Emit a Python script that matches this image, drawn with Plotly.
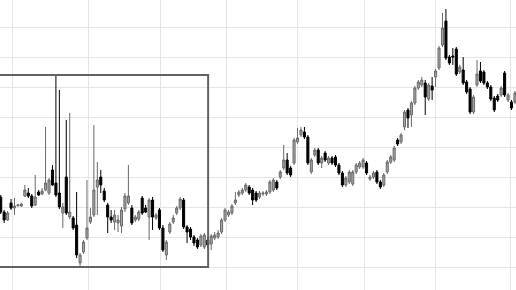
import plotly.graph_objects as go

# Daily OHLC values (arbitrary price units)
open_ = [100, 85, 77, 94, 89, 91, 91, 101, 104, 101, 92, 105, 103, 107, 104, 127, 114, 104, 84, 120,
         80, 79, 72, 34, 45, 59, 75, 82, 110, 120, 106, 92, 80, 75, 74, 71, 88, 94, 89, 77,
         78, 99, 89, 80, 97, 79, 87, 69, 42, 65, 75, 84, 89, 97, 70, 68, 60, 57, 52, 50,
         57, 53, 59, 60, 65, 77, 82, 84, 94, 102, 104, 107, 110, 107, 104, 100, 103, 103, 105, 107,
         115, 120, 129, 137, 129, 134, 155, 162, 165, 160, 125, 142, 147, 134, 144, 134, 139, 140, 132, 124,
         112, 115, 113, 125, 130, 130, 134, 118, 120, 125, 115, 112, 125, 135, 137, 157, 155, 170, 187, 182,
         194, 209, 212, 214, 198, 211, 220, 229, 252, 276, 240, 241, 248, 225, 227, 215, 208, 185, 212, 226,
         225, 214, 210, 199, 201, 202, 224, 197, 195, 195]
high = [102, 87, 86, 98, 99, 93, 94, 112, 109, 103, 122, 107, 109, 170, 119, 132, 222, 207, 94, 177,
        184, 81, 105, 44, 57, 117, 89, 172, 135, 127, 109, 94, 87, 87, 82, 90, 104, 132, 92, 82,
        87, 101, 92, 99, 100, 84, 89, 72, 57, 75, 82, 91, 100, 99, 72, 70, 62, 59, 63, 64,
        60, 63, 65, 67, 79, 89, 87, 93, 105, 107, 109, 114, 112, 109, 106, 106, 106, 107, 117, 119,
        117, 127, 152, 144, 131, 159, 169, 170, 170, 162, 139, 149, 149, 141, 146, 141, 141, 142, 134, 126,
        121, 127, 127, 134, 136, 139, 136, 122, 126, 127, 117, 124, 137, 142, 151, 159, 164, 187, 189, 196,
        211, 217, 220, 217, 214, 220, 228, 251, 284, 288, 242, 249, 250, 232, 240, 217, 210, 202, 237, 235,
        227, 216, 212, 201, 203, 211, 226, 204, 197, 206]
low = [83, 74, 76, 87, 82, 91, 90, 100, 99, 89, 91, 101, 102, 106, 102, 111, 100, 88, 69, 82,
       78, 67, 39, 30, 43, 57, 73, 80, 82, 104, 95, 64, 74, 67, 65, 64, 85, 92, 72, 75,
       76, 82, 84, 57, 67, 77, 67, 45, 37, 63, 73, 82, 87, 68, 54, 57, 51, 48, 50, 48,
       49, 47, 57, 58, 63, 75, 80, 82, 92, 100, 102, 105, 102, 92, 95, 98, 101, 101, 103, 105,
       107, 118, 127, 122, 120, 132, 153, 160, 158, 132, 123, 140, 132, 129, 135, 132, 132, 130, 122, 110,
       110, 113, 111, 123, 128, 128, 122, 116, 118, 113, 108, 110, 123, 133, 135, 151, 153, 167, 169, 170,
       192, 207, 210, 182, 196, 197, 210, 227, 250, 237, 232, 232, 221, 223, 212, 203, 183, 183, 210, 214,
       212, 208, 196, 185, 195, 200, 200, 195, 187, 193]
close = [85, 77, 84, 89, 91, 92, 93, 107, 101, 91, 100, 102, 106, 114, 117, 112, 102, 90, 90, 84,
         85, 69, 42, 42, 55, 69, 80, 107, 117, 112, 97, 80, 77, 82, 77, 87, 101, 101, 74, 80,
         85, 84, 85, 97, 80, 82, 69, 47, 55, 73, 79, 89, 98, 70, 65, 60, 54, 50, 61, 62,
         52, 61, 62, 64, 77, 87, 85, 91, 97, 105, 107, 112, 104, 97, 97, 104, 104, 105, 115, 117,
         109, 125, 137, 124, 122, 157, 159, 167, 160, 134, 137, 147, 134, 139, 137, 139, 134, 132, 124, 112,
         119, 125, 125, 132, 134, 137, 124, 120, 124, 115, 110, 122, 135, 140, 149, 153, 162, 185, 179, 194,
         209, 215, 217, 200, 212, 207, 226, 249, 269, 239, 234, 240, 223, 230, 214, 205, 185, 200, 223, 216,
         214, 210, 198, 187, 197, 209, 202, 202, 189, 204]

days = list(range(len(close)))

# Grid / highlight box positions in the same units
x_ticks = [3.3, 25.3, 46.2, 65.3, 86.1, 105.3, 126.1, 147.6]
y_ticks = [30, 60, 90, 120, 150, 180, 210, 240, 270]
box_x = [-3, 60.1]
box_y = [30, 222]

fig = go.Figure(go.Candlestick(
    x=days, open=open_, high=high, low=low, close=close,
    increasing=dict(line=dict(color="#6a6a6a", width=1), fillcolor="#a6a6a6"),
    decreasing=dict(line=dict(color="#000000", width=1), fillcolor="#000000"),
    whiskerwidth=0,
    showlegend=False,
))

fig.add_shape(type="rect", x0=box_x[0], x1=box_x[1], y0=box_y[0], y1=box_y[1],
              line=dict(color="#626262", width=2), fillcolor="rgba(0,0,0,0)")

fig.update_layout(
    width=516, height=290,
    margin=dict(l=0, r=0, t=0, b=0),
    paper_bgcolor="white", plot_bgcolor="white",
    boxgap=0.15,
    xaxis=dict(range=[-0.2, 149.3], tickvals=x_ticks, showticklabels=False,
               showgrid=True, gridcolor="#e5e5e5", gridwidth=1, zeroline=False,
               rangeslider=dict(visible=False), ticks=""),
    yaxis=dict(range=[7, 297], tickvals=y_ticks, showticklabels=False,
               showgrid=True, gridcolor="#e5e5e5", gridwidth=1, zeroline=False, ticks=""),
)

fig.write_html("out.html")
